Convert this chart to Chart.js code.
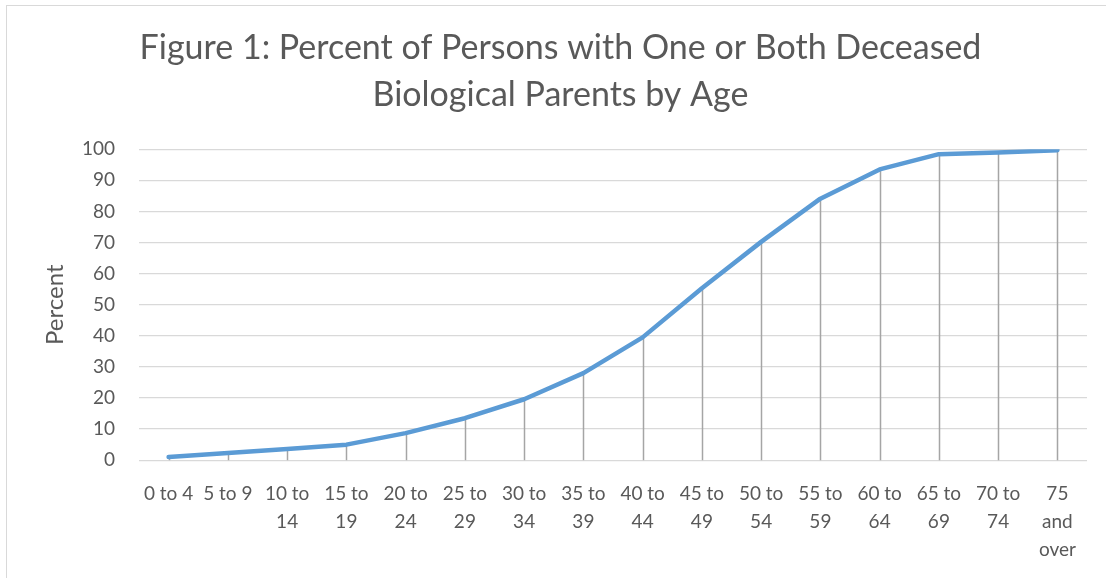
<!DOCTYPE html>
<html>
<head>
<meta charset="utf-8">
<script src="https://cdn.jsdelivr.net/npm/chart.js@4"></script>
<style>
  body { margin: 0; background: #ffffff; overflow: hidden; }
  #frame { position: absolute; left: 6px; top: 5px; width: 1110px; height: 590px; border: 1px solid #d9d9d9; }
  #chart_wrap { position: absolute; left: 0; top: 0; width: 1106px; height: 578px; }
</style>
</head>
<body>
<div id="frame"></div>
<div id="chart_wrap"><canvas id="chart_1"></canvas></div>
<script>
const ageGroups = [
  "0 to 4", ["5 to 9"], ["10 to", "14"], ["15 to", "19"], ["20 to", "24"],
  ["25 to", "29"], ["30 to", "34"], ["35 to", "39"], ["40 to", "44"],
  ["45 to", "49"], ["50 to", "54"], ["55 to", "59"], ["60 to", "64"],
  ["65 to", "69"], ["70 to", "74"], ["75", "and", "over"]
];
const percentDeceased = [1.0, 2.3, 3.6, 5.0, 8.7, 13.5, 19.6, 28.0, 39.5, 55.3, 70.2, 84.1, 93.5, 98.4, 98.9, 99.7];
const titleLines = ["Figure 1: Percent of Persons with One or Both Deceased", "Biological Parents by Age"];

const TEXT_COLOR = "#595959";
const FONT = "Lato, 'Open Sans', sans-serif";

// vertical drop lines from each point down to the axis
const dropLines = {
  id: "dropLines",
  beforeDatasetsDraw(chart) {
    const ctx = chart.ctx;
    const meta = chart.getDatasetMeta(0);
    const bottom = chart.scales.y.getPixelForValue(0);
    ctx.save();
    ctx.strokeStyle = "#a5a5a5";
    ctx.lineWidth = 1.5;
    meta.data.forEach((pt) => {
      ctx.beginPath();
      ctx.moveTo(Math.round(pt.x) + 0.5, pt.y);
      ctx.lineTo(Math.round(pt.x) + 0.5, bottom);
      ctx.stroke();
    });
    ctx.restore();
  },
};

const ctx = document.getElementById("chart_1").getContext("2d");
window.myChart = new Chart(ctx, {
  type: "line",
  data: {
    labels: ageGroups,
    datasets: [
      {
        label: "Percent",
        data: percentDeceased,
        borderColor: "#5b9bd5",
        backgroundColor: "#5b9bd5",
        borderWidth: 4.5,
        borderCapStyle: "round",
        borderJoinStyle: "round",
        pointRadius: 0,
        tension: 0,
      },
    ],
  },
  options: {
    responsive: true,
    maintainAspectRatio: false,
    animation: false,
    layout: {
      padding: { left: 34, right: 19, top: 14, bottom: 2 },
    },
    scales: {
      x: {
        offset: true,
        grid: { display: false },
        border: { display: false },
        ticks: {
          color: TEXT_COLOR,
          maxRotation: 0,
          autoSkip: false,
          padding: 12,
          font: { family: FONT, size: 19, lineHeight: 1.47 },
        },
      },
      y: {
        min: 0,
        max: 100,
        afterFit: (scale) => {
          scale.width = 105; // keep plot left edge where the original has it
        },
        grid: { color: "#d9d9d9", lineWidth: 1.3, drawTicks: false },
        border: { display: false },
        ticks: {
          stepSize: 10,
          color: TEXT_COLOR,
          padding: 24,
          font: { family: FONT, size: 19 },
        },
        title: {
          display: true,
          text: "Percent",
          color: TEXT_COLOR,
          padding: { top: 7, bottom: 0 },
          font: { family: FONT, size: 24 },
        },
      },
    },
    plugins: {
      legend: { display: false },
      tooltip: { enabled: false },
      title: {
        display: true,
        text: titleLines,
        color: TEXT_COLOR,
        padding: { top: 10, bottom: 30 },
        font: { family: FONT, size: 34, weight: "normal", lineHeight: 1.4 },
      },
    },
  },
  plugins: [dropLines],
});
</script>
</body>
</html>
